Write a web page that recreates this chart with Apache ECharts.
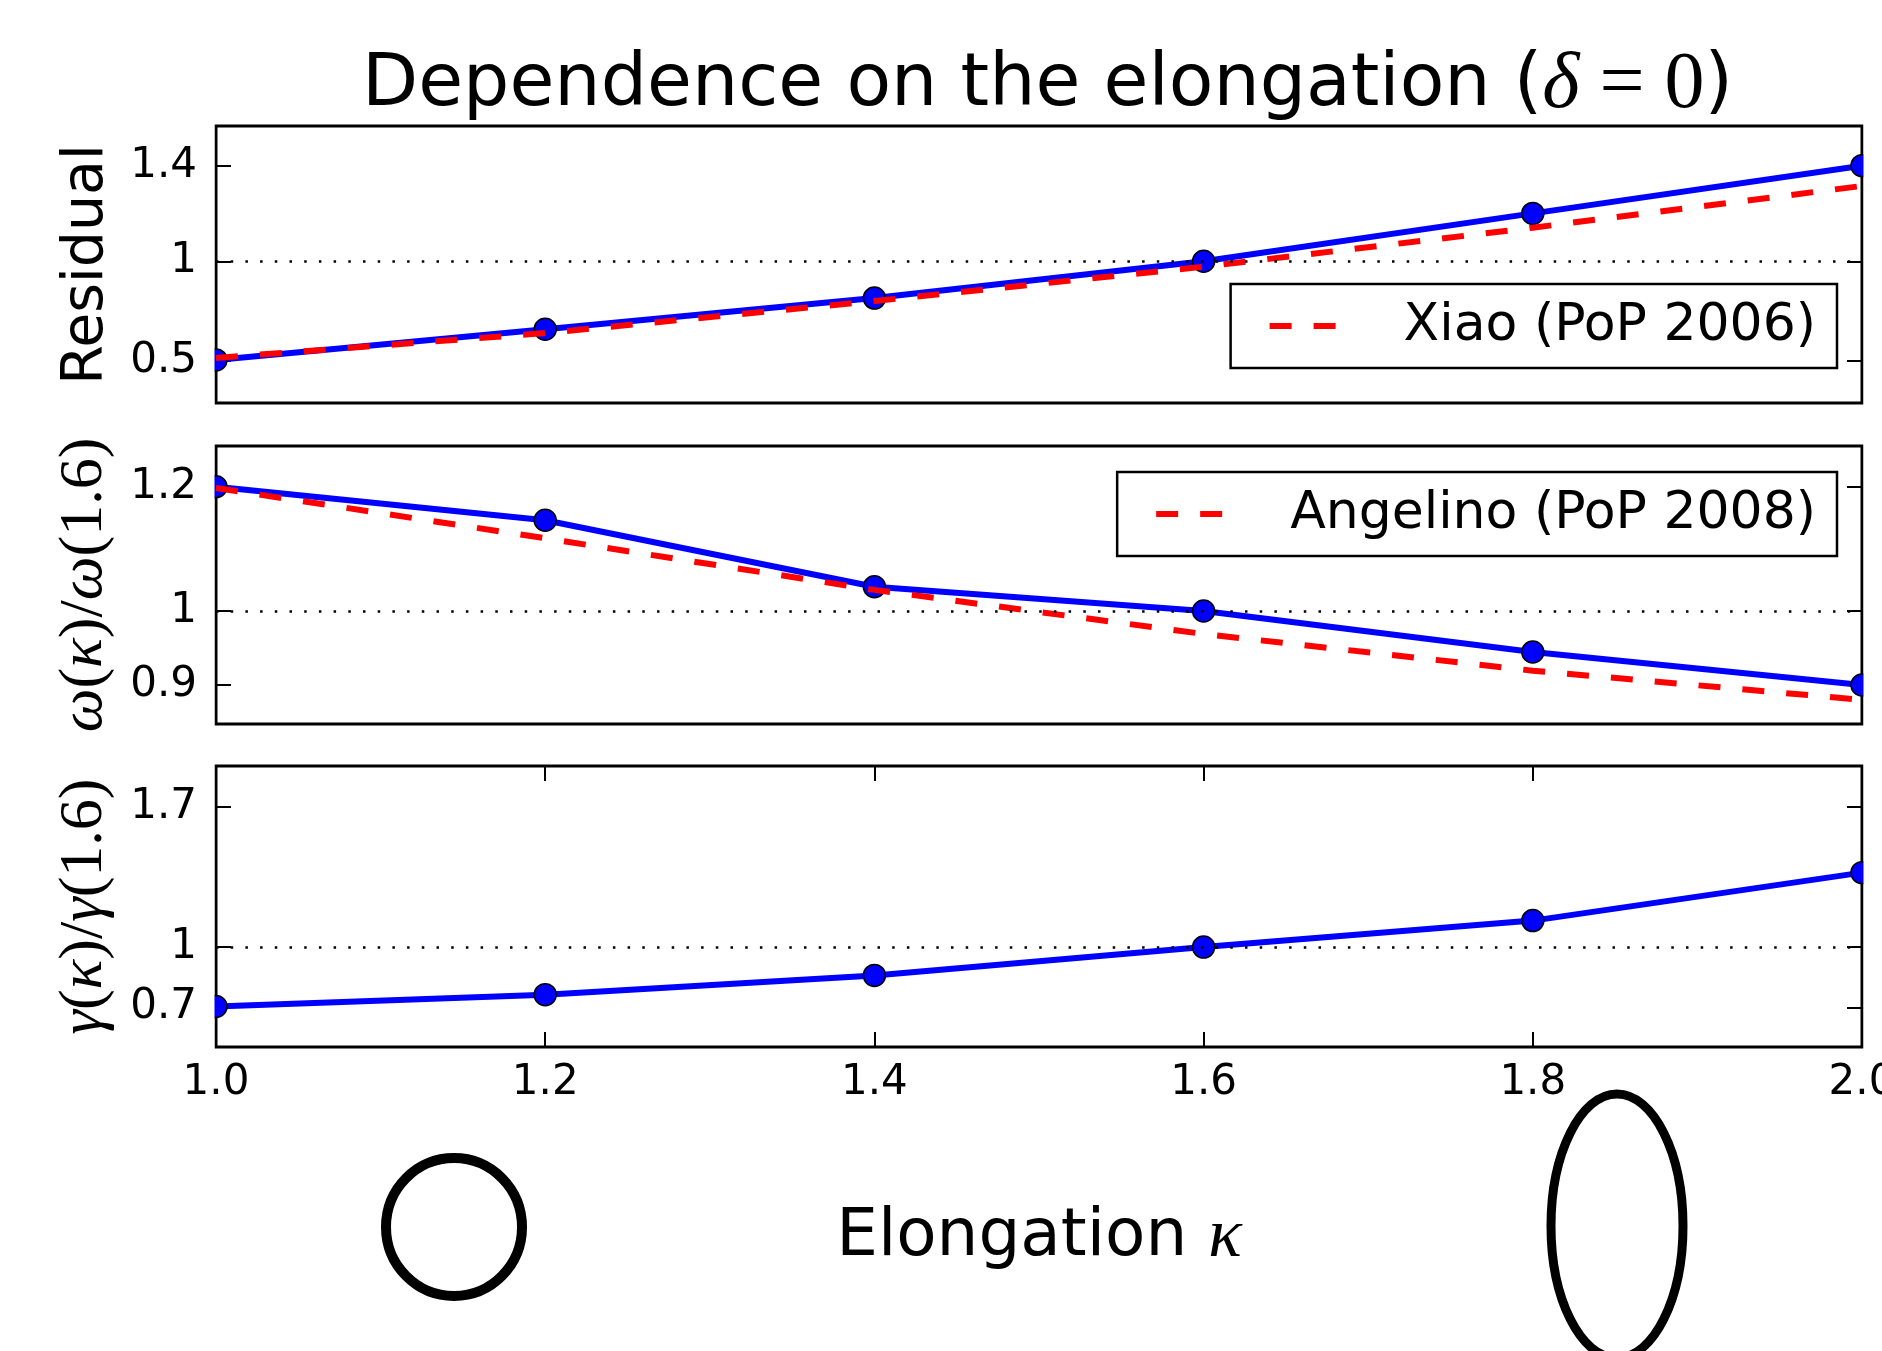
<!DOCTYPE html>
<html>
<head>
<meta charset="utf-8">
<title>Dependence on the elongation</title>
<script src="https://cdn.jsdelivr.net/npm/echarts@6.0.0/dist/echarts.min.js"></script>
<style>
html, body { margin: 0; padding: 0; background: #fff; }
#chart { width: 1882px; height: 1351px; }
</style>
</head>
<body>
<div id="chart"></div>
<script>
// ---------------- 数据 ----------------
const kappa = [1.0, 1.2, 1.4, 1.6, 1.8, 2.0]
const residual = [0.504, 0.658, 0.815, 1.0, 1.241, 1.481]
const residualXiao = [0.514, 0.639, 0.800, 0.973, 1.169, 1.379]
const omegaRatio = [1.200, 1.146, 1.039, 1.0, 0.934, 0.881]
const omegaAngelino = [1.198, 1.117, 1.034, 0.963, 0.904, 0.857]
const gammaRatio = [0.704, 0.763, 0.859, 1.0, 1.132, 1.371]

// ---------------- 刻度 ----------------
const xTicks = [1.0, 1.2, 1.4, 1.6, 1.8, 2.0]
const xTickLabels = ['1.0', '1.2', '1.4', '1.6', '1.8', '2.0']
const residualTicks = [0.5, 1, 1.48]
const residualTickLabels = ['0.5', '1', '1.4']
const omegaTicks = [0.881, 1, 1.2]
const omegaTickLabels = ['0.9', '1', '1.2']
const gammaTicks = [0.7, 1, 1.7]
const gammaTickLabels = ['0.7', '1', '1.7']

const SANS = 'DejaVu Sans'
const SERIF = 'Liberation Serif'

function pairs (ys) {
  return kappa.map((k, i) => [k, ys[i]])
}
function labelOf (ticks, labels) {
  return function (v) {
    let best = 0
    for (let i = 1; i < ticks.length; i++) {
      if (Math.abs(ticks[i] - v) < Math.abs(ticks[best] - v)) best = i
    }
    return labels[best]
  }
}

const mathRich = {
  i: { fontFamily: SERIF, fontStyle: 'italic', fontSize: 62, color: '#000' },
  r: { fontFamily: SERIF, fontSize: 62, color: '#000' }
}

// 三个子图的位置与 y 轴范围
const panels = [
  { top: 126, height: 277, min: 0.2872, max: 1.6806, ticks: residualTicks, labels: residualTickLabels,
    name: 'Residual', nameStyle: { fontFamily: SANS, fontSize: 57, color: '#000' } },
  { top: 446, height: 278, min: 0.8182, max: 1.2655, ticks: omegaTicks, labels: omegaTickLabels,
    name: '{i|ω}{r|(}{i|κ}{r|)/}{i|ω}{r|(1.6)}', nameStyle: { rich: mathRich } },
  { top: 766, height: 281, min: 0.5022, max: 1.9024, ticks: gammaTicks, labels: gammaTickLabels,
    name: '{i|γ}{r|(}{i|κ}{r|)/}{i|γ}{r|(1.6)}', nameStyle: { rich: mathRich } }
]

const tickStyle = { color: '#000', width: 2 }

const grid = panels.map(p => ({
  left: 216,
  right: 20,
  top: p.top,
  height: p.height,
  outerBoundsMode: 'none',
  containLabel: false,
  show: true,
  borderColor: '#000',
  borderWidth: 3,
  backgroundColor: 'transparent'
}))

const yAxis = []
panels.forEach((p, i) => {
  yAxis.push({
    gridIndex: i,
    type: 'value',
    position: 'left',
    min: p.min,
    max: p.max,
    axisLine: { show: false },
    splitLine: { show: false },
    axisTick: { inside: true, length: 15, customValues: p.ticks, lineStyle: tickStyle },
    axisLabel: {
      customValues: p.ticks,
      formatter: labelOf(p.ticks, p.labels),
      fontFamily: SANS,
      fontSize: 42,
      color: '#000',
      margin: 19
    },
    name: p.name,
    nameLocation: 'middle',
    nameRotate: 90,
    nameGap: 100,
    nameTextStyle: Object.assign({ color: '#000' }, p.nameStyle)
  })
  yAxis.push({
    gridIndex: i,
    type: 'value',
    position: 'right',
    min: p.min,
    max: p.max,
    axisLine: { show: false },
    splitLine: { show: false },
    axisTick: { inside: true, length: 15, customValues: p.ticks, lineStyle: tickStyle },
    axisLabel: { show: false }
  })
})

const xAxis = [
  { gridIndex: 0, type: 'value', min: 1, max: 2, show: false },
  { gridIndex: 1, type: 'value', min: 1, max: 2, show: false },
  {
    gridIndex: 2,
    type: 'value',
    position: 'bottom',
    min: 1,
    max: 2,
    axisLine: { show: false },
    splitLine: { show: false },
    axisTick: { inside: true, length: 15, customValues: xTicks, lineStyle: tickStyle },
    axisLabel: {
      customValues: xTicks,
      formatter: labelOf(xTicks, xTickLabels),
      fontFamily: SANS,
      fontSize: 42,
      color: '#000',
      margin: 15
    },
    name: 'Elongation {i|κ}',
    nameLocation: 'middle',
    nameGap: 156,
    nameTextStyle: {
      fontFamily: SANS,
      fontSize: 66,
      color: '#000',
      rich: { i: { fontFamily: SERIF, fontStyle: 'italic', fontSize: 70, color: '#000' } }
    }
  },
  {
    gridIndex: 2,
    type: 'value',
    position: 'top',
    min: 1,
    max: 2,
    axisLine: { show: false },
    splitLine: { show: false },
    axisTick: { inside: true, length: 15, customValues: xTicks, lineStyle: tickStyle },
    axisLabel: { show: false }
  }
]

// y = 1 的点线
const unityLine = {
  silent: true,
  symbol: ['none', 'none'],
  label: { show: false },
  lineStyle: { color: '#000', type: [2.5, 12.2], width: 2.5 },
  emphasis: { disabled: true },
  data: [{ yAxis: 1 }]
}

function blueSeries (name, ys, i) {
  return {
    name: name,
    type: 'line',
    xAxisIndex: i,
    yAxisIndex: 2 * i,
    data: pairs(ys),
    symbol: 'circle',
    symbolSize: 22,
    lineStyle: { color: '#0000ff', width: 6 },
    itemStyle: { color: '#0000ff', borderColor: '#000', borderWidth: 1.5 },
    markLine: unityLine,
    z: 2
  }
}
function redSeries (name, ys, i) {
  return {
    name: name,
    type: 'line',
    xAxisIndex: i,
    yAxisIndex: 2 * i,
    data: pairs(ys),
    symbol: 'none',
    lineStyle: { color: '#ff0000', width: 6, type: [22, 22] },
    itemStyle: { color: '#ff0000' },
    z: 3
  }
}

const legendBase = {
  right: 45,
  orient: 'horizontal',
  selectedMode: false,
  itemWidth: 69,
  itemHeight: 20,
  padding: [16, 21, 16, 36],
  borderColor: '#000',
  borderWidth: 2.5,
  borderRadius: 0,
  backgroundColor: '#fff',
  itemStyle: { opacity: 0 },
  lineStyle: { color: '#ff0000', width: 6, type: [22, 22], opacity: 1 },
  textStyle: { fontFamily: SANS, fontSize: 52, color: '#000', padding: [0, 0, 0, 60] }
}

const option = {
  animation: false,
  backgroundColor: '#fff',
  title: {
    text: '{s|Dependence on the elongation (}{mi|δ}{m| = 0}{s|)}',
    left: 362,
    top: 46,
    padding: 0,
    textStyle: {
      fontWeight: 'normal',
      rich: {
        s: { fontFamily: SANS, fontWeight: 'normal', fontSize: 73, color: '#000' },
        mi: { fontFamily: SERIF, fontStyle: 'italic', fontWeight: 'normal', fontSize: 80, color: '#000' },
        m: { fontFamily: SERIF, fontWeight: 'normal', fontSize: 80, color: '#000' }
      }
    }
  },
  legend: [
    Object.assign({}, legendBase, { top: 284, data: ['Xiao (PoP 2006)'] }),
    Object.assign({}, legendBase, { top: 472, data: ['Angelino (PoP 2008)'] })
  ],
  grid: grid,
  xAxis: xAxis,
  yAxis: yAxis,
  series: [
    blueSeries('Residual', residual, 0),
    redSeries('Xiao (PoP 2006)', residualXiao, 0),
    blueSeries('omega', omegaRatio, 1),
    redSeries('Angelino (PoP 2008)', omegaAngelino, 1),
    blueSeries('gamma', gammaRatio, 2)
  ],
  graphic: [
    // 坐标区外的标记裁剪
    { type: 'rect', z: 100, silent: true, shape: { x: 198, y: 118, width: 16.5, height: 936 }, style: { fill: '#fff' } },
    { type: 'rect', z: 100, silent: true, shape: { x: 1863.5, y: 118, width: 19, height: 936 }, style: { fill: '#fff' } },
    // 截面形状示意
    { type: 'ellipse', z: 100, silent: true, shape: { cx: 454, cy: 1227, rx: 68, ry: 69 }, style: { fill: 'none', stroke: '#000', lineWidth: 10 } },
    { type: 'ellipse', z: 100, silent: true, shape: { cx: 1617, cy: 1226, rx: 66, ry: 132 }, style: { fill: 'none', stroke: '#000', lineWidth: 9 } }
  ]
}

const chart = echarts.init(document.getElementById('chart'), null, { renderer: 'canvas' })
chart.setOption(option)
</script>
</body>
</html>
